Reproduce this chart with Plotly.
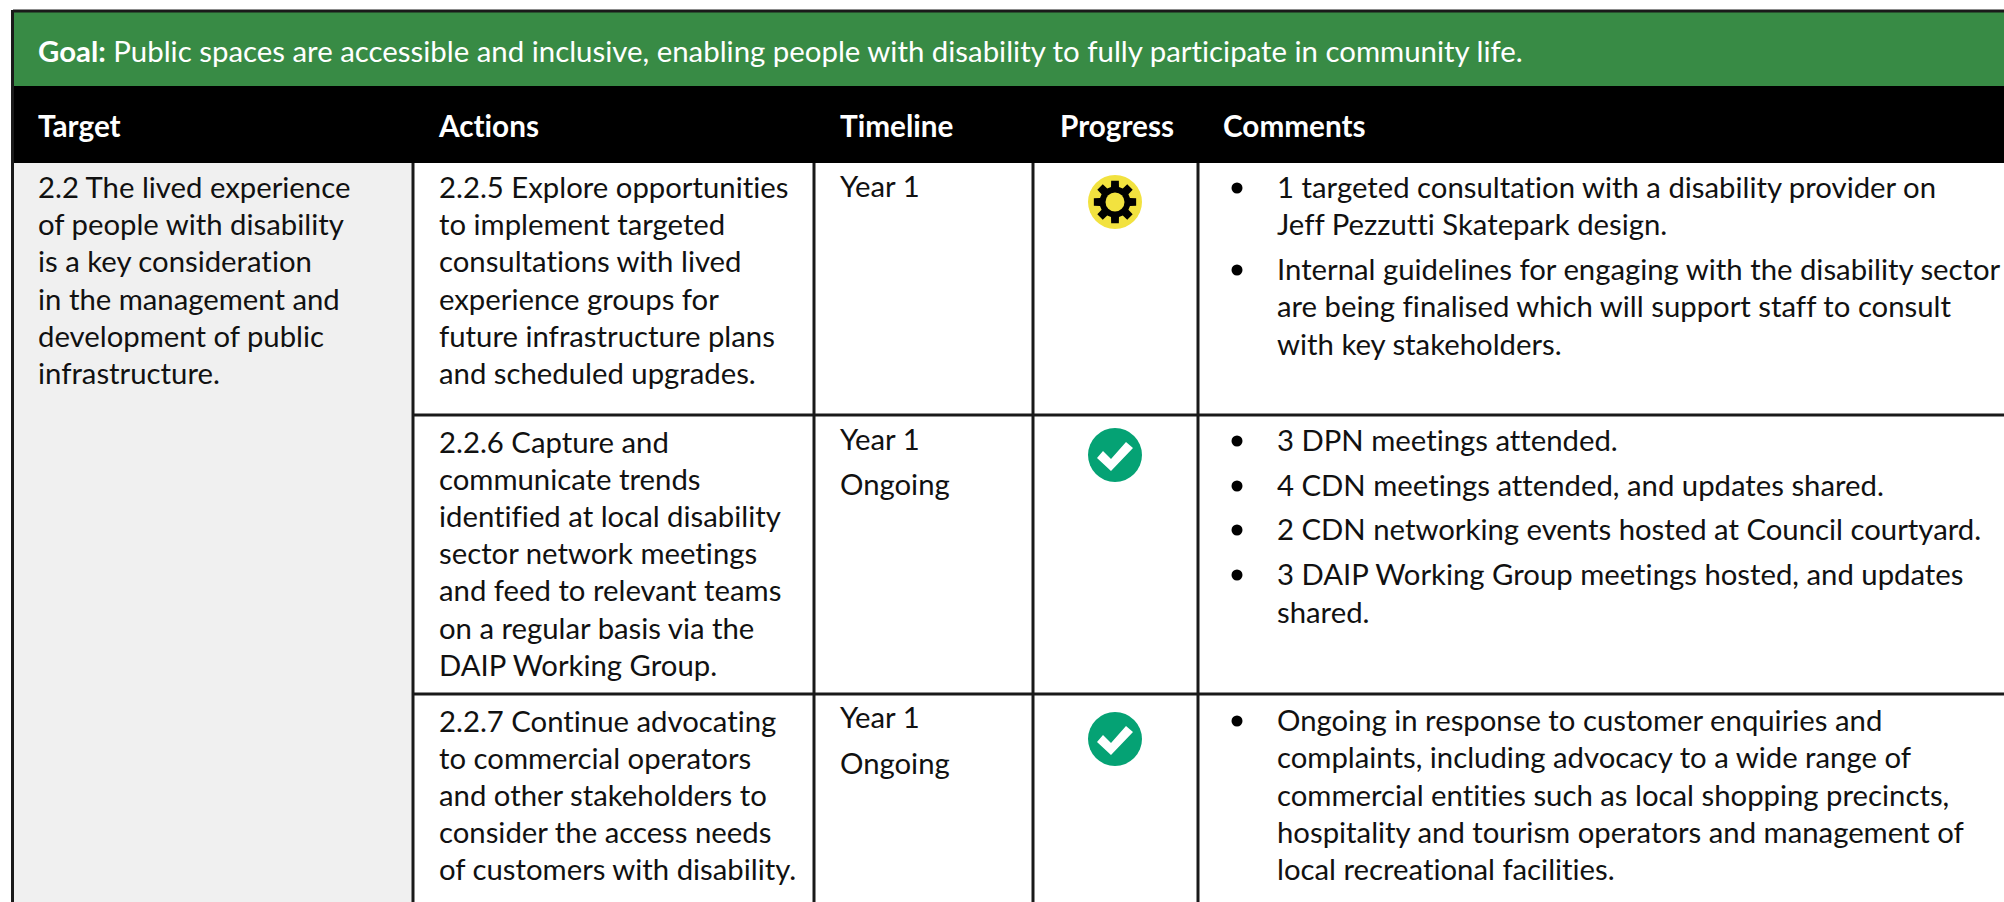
import math
import plotly.graph_objects as go

W, H = 2004, 902
FONT = "Lato"
SIZE = 29.3
GOAL_SIZE = 29.38
HEAD_SIZE = 29.7
GREEN, BLACK, GREY, YELLOW, TEAL, LINE = "#388B45", "#000000", "#F0F0F0", "#F2E23F", "#05A274", "#1A1A1A"

goal_label = "Goal:"
goal_text = "Public spaces are accessible and inclusive, enabling people with disability to fully participate in community life."
headers = ["Target", "Actions", "Timeline", "Progress", "Comments"]
target_lines = ["2.2 The lived experience", "of people with disability", "is a key consideration",
                "in the management and", "development of public", "infrastructure."]
action_lines = [
    ["2.2.5 Explore opportunities", "to implement targeted", "consultations with lived", "experience groups for",
     "future infrastructure plans", "and scheduled upgrades."],
    ["2.2.6 Capture and", "communicate trends", "identified at local disability", "sector network meetings",
     "and feed to relevant teams", "on a regular basis via the", "DAIP Working Group."],
    ["2.2.7 Continue advocating", "to commercial operators", "and other stakeholders to",
     "consider the access needs", "of customers with disability."],
]
timeline_lines = [["Year 1"], ["Year 1", "Ongoing"], ["Year 1", "Ongoing"]]
progress_status = ["in progress", "complete", "complete"]
comment_lines = [
    [["1 targeted consultation with a disability provider on", "Jeff Pezzutti Skatepark design."],
     ["Internal guidelines for engaging with the disability sector", "are being finalised which will support staff to consult",
      "with key stakeholders."]],
    [["3 DPN meetings attended."], ["4 CDN meetings attended, and updates shared."],
     ["2 CDN networking events hosted at Council courtyard."],
     ["3 DAIP Working Group meetings hosted, and updates", "shared."]],
    [["Ongoing in response to customer enquiries and", "complaints, including advocacy to a wide range of",
      "commercial entities such as local shopping precincts,",
      "hospitality and tourism operators and management of", "local recreational facilities."]],
]

# layout (pixels in the page)
X_LEFT, X_A, X_T, X_P, X_C = 13, 413, 814, 1033, 1198
Y_TOP, Y_GREEN, Y_HEAD, Y_R2, Y_R3 = 12, 86, 163, 415, 694
LH = 37.2
ACTION_Y0 = [186.5, 441, 720]
TIME_Y = [[185.5], [438.5, 483.5], [716.5, 762.5]]
COMMENT_Y = [[[186.5, 223.5], [268.5, 305.5, 343.5]], [[439.5], [484.5], [528.5], [573.5, 611.5]], [[719.5, 756.5, 794.5, 831.5, 868.5]]]
ICON_Y = [202, 455, 739]
ICON_X = 1115
ICON_R = 27

fig = go.Figure()
shapes = []
ann = []

def rect(x0, y0, x1, y1, color):
    shapes.append(dict(type="rect", x0=x0, y0=y0, x1=x1, y1=y1, fillcolor=color, line_width=0, layer="below"))

def hl(y, x0=X_LEFT, x1=W, w=3):
    shapes.append(dict(type="line", x0=x0, x1=x1, y0=y, y1=y, line=dict(color=LINE, width=w), layer="between"))

def vl(x, y0, y1=H, w=3):
    shapes.append(dict(type="line", x0=x, x1=x, y0=y0, y1=y1, line=dict(color=LINE, width=w), layer="between"))

def text(x, y, s, color="#111111", size=SIZE, anchor="left"):
    ann.append(dict(x=x, y=y, text=s, showarrow=False, xanchor=anchor, yanchor="middle", xref="x", yref="y",
                    font=dict(family=FONT, size=size, color=color), align="left", borderpad=0, borderwidth=0))

rect(X_LEFT, Y_TOP, W, Y_GREEN, GREEN)
rect(X_LEFT, Y_GREEN, W, Y_HEAD, BLACK)
rect(X_LEFT, Y_HEAD, X_A, H, GREY)
hl(Y_TOP - 1)
vl(X_LEFT - 0.5, 10, H)
vl(X_A, Y_HEAD, H)
vl(X_T, Y_HEAD, H)
vl(X_P, Y_HEAD, H)
vl(X_C, Y_HEAD, H)
hl(Y_R2, X_A)
hl(Y_R3, X_A)

text(38, 50, f"<b>{goal_label}</b> {goal_text}", "white", GOAL_SIZE)
for s, x, anc in zip(headers, [38, 438, 840, 1116.5, 1223], ["left", "left", "left", "center", "left"]):
    text(x, 125, f"<b>{s}</b>", "white", HEAD_SIZE, anc)
for i, s in enumerate(target_lines):
    text(38, 186.5 + i * LH, s)
for y0, lines in zip(ACTION_Y0, action_lines):
    for i, s in enumerate(lines):
        text(439, y0 + i * LH, s)
for ys, lines in zip(TIME_Y, timeline_lines):
    for y, s in zip(ys, lines):
        text(840, y, s)
bx, by = [], []
for ygroups, groups in zip(COMMENT_Y, comment_lines):
    for ys, lines in zip(ygroups, groups):
        bx.append(1237); by.append(ys[0] + 1.5)
        for y, s in zip(ys, lines):
            text(1277, y, s)

colors = [YELLOW if s == "in progress" else TEAL for s in progress_status]
fig.add_trace(go.Scatter(x=[ICON_X] * 3, y=ICON_Y, mode="markers", hoverinfo="skip",
                         marker=dict(size=ICON_R * 2, color=colors, line_width=0)))
fig.add_trace(go.Scatter(x=bx, y=by, mode="markers", hoverinfo="skip",
                         marker=dict(size=11, color="#000000", line_width=0)))

def gear(cx, cy):
    pts = []
    teeth, r_in, r_out = 8, 15.5, 21.5
    for k in range(teeth):
        a = 2 * math.pi * k / teeth
        for da, r in [(-0.26, r_in), (-0.18, r_out), (0.18, r_out), (0.26, r_in)]:
            pts.append((cx + r * math.cos(a + da), cy + r * math.sin(a + da)))
    return "M" + "L".join(f"{x:.2f},{y:.2f}" for x, y in pts) + "Z"

def check(cx, cy):
    off = [(-18, 3), (-12, -4), (-4, 4), (11, -13), (18, -7), (-4, 16)]
    return "M" + "L".join(f"{cx+x},{cy+y}" for x, y in off) + "Z"

for st, y in zip(progress_status, ICON_Y):
    if st == "in progress":
        shapes.append(dict(type="path", path=gear(ICON_X, y), fillcolor="#000000", line_width=0, layer="above"))
        shapes.append(dict(type="circle", x0=ICON_X - 9.5, x1=ICON_X + 9.5, y0=y - 9.5, y1=y + 9.5, fillcolor=YELLOW, line_width=0, layer="above"))
    else:
        shapes.append(dict(type="path", path=check(ICON_X, y), fillcolor="#FFFFFF", line_width=0, layer="above"))

fig.update_layout(width=W, height=H, margin=dict(l=0, r=0, t=0, b=0), showlegend=False,
                  paper_bgcolor="white", plot_bgcolor="white", shapes=shapes, annotations=ann,
                  xaxis=dict(range=[0, W], visible=False, fixedrange=True),
                  yaxis=dict(range=[H, 0], visible=False, fixedrange=True))
fig.write_html("out.html", config={"displayModeBar": False},
               post_script="document.body.style.margin='0';document.body.style.overflow='hidden';"
                           "var st=document.createElement('style');"
                           "st.textContent='svg text{font-variant-ligatures:none !important;}';"
                           "document.head.appendChild(st);")
